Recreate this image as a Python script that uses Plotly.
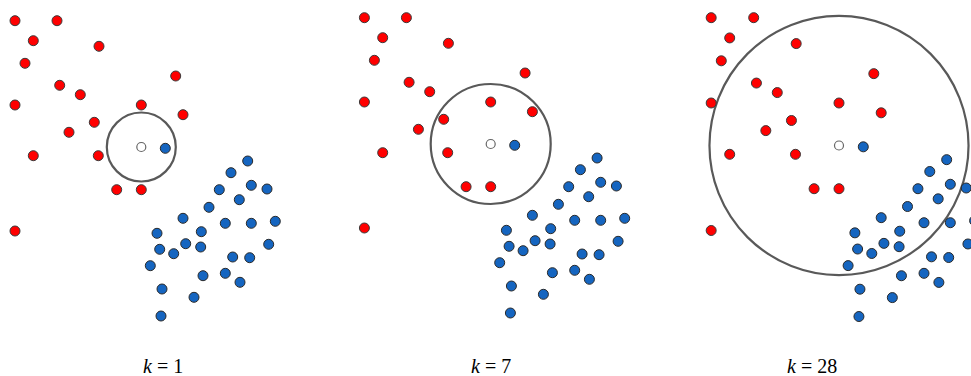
import plotly.graph_objects as go

# point positions relative to the query point (same data in every panel)
red_x = [-126.3, -84.3, -108.0, -42.3, -116.3, 34.4, -81.6, -61.0, -126.3, 0.0,
         41.7, -47.0, -72.3, -108.0, -43.0, -24.6, 0.0, -126.3]
red_y = [126.3, 126.3, 106.3, 100.7, 83.7, 71.0, 61.7, 52.3, 42.0, 42.0,
         32.3, 24.7, 14.7, -8.7, -8.7, -42.7, -42.7, -84.0]
blue_x = [24.0, 106.4, 89.7, 78.0, 110.0, 125.7, 98.0, 67.7, 41.7, 84.0,
          110.0, 134.0, 15.7, 60.0, 18.4, 44.4, 59.4, 32.4, 127.4, 9.0,
          91.4, 108.4, 61.7, 84.0, 98.7, 20.7, 52.7, 19.7]
blue_y = [-1.3, -14.0, -25.7, -42.7, -38.3, -42.0, -52.7, -60.3, -71.3, -76.3,
          -76.3, -74.3, -86.3, -84.7, -102.3, -96.7, -100.0, -106.7, -97.3, -118.7,
          -110.0, -110.7, -128.7, -126.3, -135.3, -142.0, -150.3, -169.0]
k_values = [1, 7, 28]
radii = [34.5, 60.0, 128.0]

W, H = 971, 376
# panel layout in pixels: domain left/right, query centre, scale
panels = [
    dict(d0=0, d1=349, cx=141.3, cy=147.0, s=1.0),
    dict(d0=349, d1=698, cx=490.7, cy=144.0, s=1.0),
    dict(d0=698, d1=971, cx=839.0, cy=145.5, s=1.012),
]

fig = go.Figure()
layout = {}
for i, (p, k, r) in enumerate(zip(panels, k_values, radii)):
    n = "" if i == 0 else str(i + 1)
    xa, ya = "x" + n, "y" + n
    fig.add_trace(go.Scatter(x=red_x, y=red_y, mode="markers", xaxis=xa, yaxis=ya,
                             marker=dict(size=10, color="#ff0000",
                                         line=dict(color="#3a3a3a", width=1))))
    fig.add_trace(go.Scatter(x=blue_x, y=blue_y, mode="markers", xaxis=xa, yaxis=ya,
                             marker=dict(size=10, color="#1565c0",
                                         line=dict(color="#2a2a2a", width=1))))
    fig.add_trace(go.Scatter(x=[0], y=[0], mode="markers", xaxis=xa, yaxis=ya,
                             marker=dict(size=9, color="white",
                                         line=dict(color="#666666", width=1.2))))
    fig.add_shape(type="circle", xref=xa, yref=ya, x0=-r, x1=r, y0=-r, y1=r,
                  line=dict(color="#595959", width=2.2), layer="below")
    layout["xaxis" + n] = dict(domain=[p["d0"] / W, p["d1"] / W],
                               range=[(p["d0"] - p["cx"]) / p["s"], (p["d1"] - p["cx"]) / p["s"]],
                               visible=False, anchor=ya)
    layout["yaxis" + n] = dict(domain=[0, 1],
                               range=[(p["cy"] - H) / p["s"], p["cy"] / p["s"]],
                               visible=False, anchor=xa)
    fig.add_annotation(text="<i>k</i> = %d" % k, xref="paper", yref="paper",
                       x=p["cx"] / W, y=1 - 366 / H, yanchor="middle", showarrow=False,
                       font=dict(family="Liberation Serif", size=20, color="#000000"))

fig.update_layout(**layout)
fig.update_layout(width=W, height=H, margin=dict(l=0, r=0, t=0, b=0),
                  plot_bgcolor="white", paper_bgcolor="white", showlegend=False)
fig.write_html("out.html", config={"displayModeBar": False},
               post_script="document.body.style.margin='0';")
